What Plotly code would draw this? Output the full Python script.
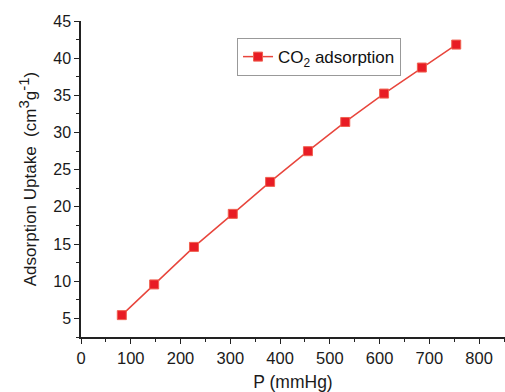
import plotly.graph_objects as go

pressure = [82, 147, 227, 305, 380, 456, 531, 609, 685, 754]
uptake = [5.44, 9.57, 14.62, 19.06, 23.36, 27.49, 31.42, 35.24, 38.74, 41.83]
series_name = "CO<sub>2</sub> adsorption"
x_title = "P (mmHg)"
y_title = ("Adsorption Uptake  (cm<sup><span style='font-size:15px'>3</span></sup>"
           "g<sup><span style='font-size:15px'>-1</span></sup>)")

fig = go.Figure()
fig.add_trace(go.Scatter(
    x=pressure, y=uptake, mode="lines+markers", name=series_name,
    line=dict(color="#e8453c", width=1.5),
    marker=dict(symbol="square", size=9, color="#e81c24",
                line=dict(color="#f06050", width=1)),
))

fam = "Liberation Sans, Arial, sans-serif"
tickfont = dict(family=fam, size=16, color="#1a1a1a")

fig.update_layout(
    width=505, height=392,
    margin=dict(l=81, r=0, t=21, b=55),
    paper_bgcolor="white", plot_bgcolor="white",
    font=tickfont,
    showlegend=True,
    legend=dict(x=0.368, y=0.946, xanchor="left", yanchor="top",
                bordercolor="#999999", borderwidth=1, bgcolor="white",
                font=dict(family=fam, size=17, color="#111111"),
                itemwidth=30, tracegroupgap=0),
    xaxis=dict(
        range=[0, 852], tick0=0, dtick=100, ticks="outside", ticklen=5,
        tickwidth=1.2, tickcolor="#222", showline=True, linecolor="#222",
        linewidth=1.5, showgrid=False, zeroline=False, automargin=False,
        tickfont=dict(family=fam, size=16.5, color="#1a1a1a"),
        minor=dict(dtick=50, tick0=0, ticks="outside", ticklen=3, tickcolor="#222", tickwidth=1),
        title=dict(text=x_title, standoff=22, font=dict(family=fam, size=17.5, color="#1a1a1a")),
    ),
    yaxis=dict(
        range=[2.5, 45], tick0=0, dtick=5, ticks="outside", ticklen=5,
        tickwidth=1.2, tickcolor="#222", showline=True, linecolor="#222",
        linewidth=1.5, showgrid=False, zeroline=False, automargin=False,
        tickfont=tickfont,
        minor=dict(dtick=2.5, tick0=0, ticks="outside", ticklen=3, tickcolor="#222", tickwidth=1),
        title=dict(text=y_title, standoff=12, font=dict(family=fam, size=17, color="#1a1a1a")),
    ),
)

fig.write_html("out.html", config={"displayModeBar": False},
               post_script="document.body.style.margin='0';document.body.style.overflow='hidden';")
